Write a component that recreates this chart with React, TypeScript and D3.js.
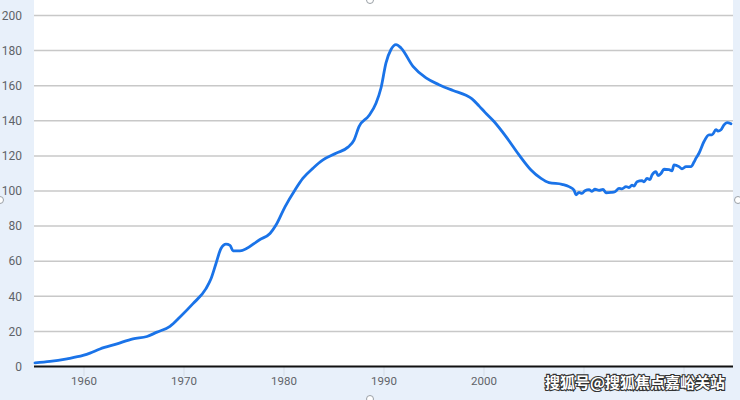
import React from 'react';
import * as d3 from 'd3';

// values (decimal year, index value)
const years = [
  1955.1, 1956.6, 1958.3, 1959.9, 1960.6, 1961.6, 1963.3, 1964.9, 1966.3, 1967.3,
  1968.6, 1969.6, 1970.9, 1972.2, 1972.7, 1973.2, 1973.7, 1974.2, 1974.6, 1974.9,
  1975.6, 1977.6, 1978.6, 1979.2, 1980.1, 1981.1, 1981.9, 1982.9, 1983.9, 1985.2,
  1986.4, 1987.0, 1987.5, 1988.5, 1989.2, 1989.7, 1990.2, 1990.7, 1991.2, 1991.7,
  1992.9, 1994.2, 1995.5, 1996.9, 1998.2, 1998.8, 1999.5, 2000.1, 2001.0, 2002.2,
  2003.5, 2004.7, 2005.7, 2006.5, 2007.8, 2008.5, 2009.0, 2009.2, 2009.5, 2009.8,
  2010.1, 2010.5, 2010.8, 2011.1, 2011.5, 2011.9, 2012.2, 2012.7, 2013.1, 2013.5,
  2013.8, 2014.2, 2014.5, 2014.8, 2015.0, 2015.3, 2015.8, 2016.0, 2016.3, 2016.6,
  2016.8, 2017.2, 2017.4, 2017.7, 2018.0, 2018.5, 2018.8, 2019.0, 2019.5, 2019.8,
  2020.2, 2020.7, 2021.0, 2021.2, 2021.5, 2022.0, 2022.5, 2022.8, 2023.2, 2023.4,
  2023.7, 2024.0, 2024.3, 2024.7,
];
const values = [
  2.1, 2.9, 4.4, 6.3, 7.6, 10, 12.9, 15.8, 17.1, 19.6,
  22.9, 28.2, 35.8, 44.4, 50, 58.7, 67.2, 69.7, 69, 65.9,
  65.9, 72.4, 75.8, 80.6, 91, 100.6, 107.3, 113, 117.7, 121.5,
  125, 129, 136.7, 143, 150, 158.7, 173, 180.6, 183.4, 181.5,
  171, 164.4, 160.6, 157.3, 154.5, 152.5, 148.5, 144.8, 139.6, 131,
  120.6, 112, 107.2, 104.8, 103.8, 102.5, 100.5, 97.8, 99.2, 98.6,
  100.2, 100.8, 99.8, 101, 100.4, 100.9, 99, 99.2, 99.6, 101.5,
  101.2, 102.5, 102, 103.4, 102.8, 105.3, 105.9, 105.2, 107.2, 106.5,
  109.1, 111, 108.8, 110, 112.4, 112.2, 111.5, 114.9, 113.9, 112.6,
  113.9, 113.9, 116.5, 118.7, 121.5, 128.2, 132, 132, 134.9, 134.2,
  134.9, 137.7, 139, 138.3,
];
const yTicks = [0, 20, 40, 60, 80, 100, 120, 140, 160, 180, 200];
const xTicks = [1960, 1970, 1980, 1990, 2000, 2010, 2020];
// 2010 and 2020 labels sit under the watermark in the reference
const xLabels = [1960, 1970, 1980, 1990, 2000];
const watermark = '搜狐号@搜狐焦点嘉峪关站';

const W = 740;
const H = 400;
const plot = { left: 34, right: 733, top: 15.5, bottom: 366.5 };

export default function App() {
  const x = d3.scaleLinear().domain([1955, 2024.9]).range([plot.left, plot.right]);
  const y = d3.scaleLinear().domain([0, 200]).range([plot.bottom, plot.top]);

  const pts = years.map((yr, i) => [yr, values[i]] as [number, number]);
  const line = d3.line<[number, number]>()
    .x(d => x(d[0]))
    .y(d => y(d[1]))
    .curve(d3.curveMonotoneX);

  const axisFont = 'Roboto, "Noto Sans", sans-serif';

  return (
    <svg width={W} height={H} style={{ position: 'absolute', left: 0, top: 0, display: 'block' }}>
      <rect x={0} y={0} width={W} height={H} fill="#e8f0fa" />
      <rect x={plot.left} y={0} width={plot.right - plot.left} height={plot.bottom} fill="#ffffff" />

      {/* grid lines */}
      {yTicks.filter(t => t > 0).map(t => (
        <line key={'g' + t} x1={plot.left} x2={plot.right} y1={y(t)} y2={y(t)}
          stroke="#c8c8c8" strokeWidth={1.5} />
      ))}

      {/* y labels */}
      {yTicks.map(t => (
        <text key={'yl' + t} x={22} y={y(t)} dy="0.35em" textAnchor="end"
          fontFamily={axisFont} fontSize={12} fill="#5f6368">{t}</text>
      ))}

      {/* x ticks */}
      {xTicks.map(t => (
        <line key={'xt' + t} x1={x(t)} x2={x(t)} y1={plot.bottom} y2={376}
          stroke="#d5dce6" strokeWidth={1} />
      ))}
      {xLabels.map(t => (
        <text key={'xl' + t} x={x(t)} y={381} dy="0.35em" textAnchor="middle"
          fontFamily={axisFont} fontSize={11.5} fill="#5f6368">{t}</text>
      ))}

      {/* baseline */}
      <line x1={plot.left} x2={plot.right} y1={plot.bottom} y2={plot.bottom} stroke="#111" strokeWidth={2} />

      {/* series */}
      <path d={line(pts) ?? ''} fill="none" stroke="#1a73e8" strokeWidth={2.8}
        strokeLinejoin="round" strokeLinecap="round" />

      {/* selection handles from the screenshot */}
      {[[370, 0], [0, 200], [738, 200], [370, 399]].map(([cx, cy], i) => (
        <circle key={'h' + i} cx={cx} cy={cy} r={3.5} fill="#ffffff" stroke="#9aa0a6" strokeWidth={1} />
      ))}

      {/* watermark */}
      <text x={545} y={383} dy="0.35em" fontFamily='"Noto Sans CJK SC", sans-serif'
        fontSize={15} fontWeight="bold" fill="#ffffff" stroke="#333" strokeWidth={2.2}
        style={{ paintOrder: 'stroke' }}>{watermark}</text>
    </svg>
  );
}
